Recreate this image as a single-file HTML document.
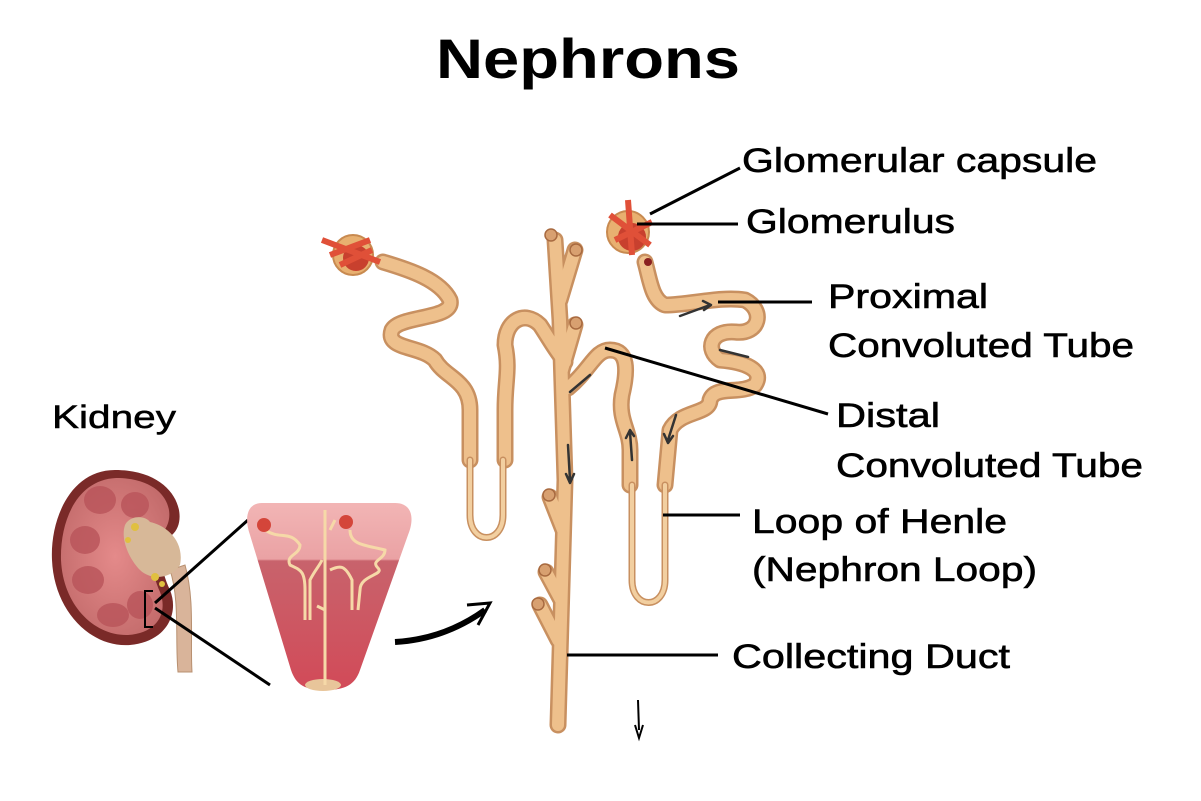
<!DOCTYPE html>
<html><head><meta charset="utf-8"><style>html,body{margin:0;padding:0;background:#fff}svg{display:block}</style></head>
<body>
<svg width="1201" height="801" viewBox="0 0 1201 801" xmlns="http://www.w3.org/2000/svg" font-family="Liberation Sans, sans-serif">
<defs>
<linearGradient id="pyr" x1="0" y1="0" x2="0" y2="1">
<stop offset="0" stop-color="#f2b5b5"/><stop offset="0.3" stop-color="#eaa2a4"/><stop offset="0.31" stop-color="#c8636c"/><stop offset="1" stop-color="#d24a58"/></linearGradient>
<radialGradient id="kid" cx="0.5" cy="0.5" r="0.6"><stop offset="0" stop-color="#e48a8a"/><stop offset="1" stop-color="#c26a6a"/></radialGradient>
</defs>
<rect width="1201" height="801" fill="#fff"/>
<text x="436" y="78" font-size="56" font-weight="bold" textLength="304" lengthAdjust="spacingAndGlyphs">Nephrons</text>

<!-- Kidney -->
<text x="52" y="428" font-size="32" textLength="124" lengthAdjust="spacingAndGlyphs" stroke="#000" stroke-width="0.5">Kidney</text>
<path d="M170,570 C180,600 175,640 178,672 L192,672 C190,640 195,600 185,565 Z" fill="#d9b49a" stroke="#b89070"/>
<path d="M115,470 C70,470 50,520 52,560 C54,610 90,648 130,645 C165,642 180,615 170,590 C158,565 160,545 172,535 C190,520 178,470 115,470 Z" fill="#7a2a28"/>
<path d="M116,478 C76,480 60,522 61,560 C63,605 94,636 128,635 C158,633 168,612 160,592 C150,570 150,548 163,532 C178,515 168,478 116,478 Z" fill="url(#kid)"/>
<g fill="#b9545a" opacity="0.8">
<ellipse cx="100" cy="500" rx="16" ry="14"/><ellipse cx="135" cy="505" rx="14" ry="13"/><ellipse cx="85" cy="540" rx="15" ry="14"/><ellipse cx="88" cy="580" rx="16" ry="14"/><ellipse cx="113" cy="615" rx="16" ry="12"/><ellipse cx="140" cy="605" rx="13" ry="14"/></g>
<path d="M125,525 C130,515 145,515 150,522 C165,525 185,540 180,565 C170,580 150,580 140,570 C130,560 120,540 125,525 Z" fill="#d7b898"/>
<g fill="#e0c040"><circle cx="135" cy="527" r="4"/><circle cx="128" cy="540" r="3"/><circle cx="155" cy="577" r="4"/><circle cx="162" cy="584" r="3"/></g>
<path d="M153,591 L145,591 L145,627 L153,627" fill="none" stroke="#000" stroke-width="2"/>
<line x1="155" y1="603" x2="248" y2="520" stroke="#000" stroke-width="3"/>
<line x1="155" y1="608" x2="270" y2="685" stroke="#000" stroke-width="3"/>

<!-- Pyramid -->
<path d="M262,503 L395,503 C412,503 415,518 408,535 L360,670 C355,685 345,690 325,690 C305,690 296,685 291,670 L250,535 C244,518 247,503 262,503 Z" fill="url(#pyr)"/>
<ellipse cx="323" cy="685" rx="18" ry="6" fill="#e8c59a"/>
<g fill="none" stroke="#f6d9a8" stroke-width="3">
<path d="M325,510 L325,685"/><path d="M325,610 L317,606"/><path d="M330,530 L335,520"/>
<path d="M265,530 C280,540 290,530 300,545 C300,555 285,555 290,565 C300,570 305,570 305,590 L305,620 M310,620 L310,580 C315,570 320,565 322,560"/>
<path d="M350,530 C350,545 365,545 385,550 C385,560 370,560 378,568 C385,575 360,575 360,590 L358,610 M352,610 L352,580 C345,565 340,565 330,570"/>
</g>
<circle cx="264" cy="525" r="7" fill="#d4453a"/><circle cx="346" cy="522" r="7" fill="#d4453a"/>
<path d="M395,642 C430,640 460,628 485,610" fill="none" stroke="#000" stroke-width="6"/>
<path d="M467,605 L490,603 L478,625" fill="none" stroke="#000" stroke-width="3"/>

<!-- tubes -->
<g fill="none" stroke-linecap="round" stroke-linejoin="round">
<g stroke="#c89060" stroke-width="17">
<path d="M555,240 L560,320 L565,480 L558,725"/><path d="M575,250 L560,300"/><path d="M575,325 L562,370"/><path d="M550,497 L563,530"/><path d="M546,572 L561,600"/><path d="M540,605 L558,640"/>
<path d="M383,262 C410,270 440,280 450,300 C455,320 400,315 392,330 C385,350 420,345 435,360 C445,378 470,380 470,410 L470,460"/>
<path d="M505,460 L505,410 C505,380 510,370 505,345 C505,320 525,310 540,325 C550,340 555,350 565,362"/>
<path d="M645,262 C650,280 652,300 665,305 C690,305 720,296 745,300 C765,310 760,335 735,332 C710,330 705,350 720,360 C745,362 765,370 755,385 C740,395 715,385 710,400 C710,415 680,410 670,430 L665,485"/>
<path d="M630,485 L630,450 C630,430 618,420 622,395 C628,370 628,350 610,350 C595,350 590,370 568,388"/>
</g>
<g stroke="#eec08c" stroke-width="12">
<path d="M555,240 L560,320 L565,480 L558,725"/><path d="M575,250 L560,300"/><path d="M575,325 L562,370"/><path d="M550,497 L563,530"/><path d="M546,572 L561,600"/><path d="M540,605 L558,640"/>
<path d="M383,262 C410,270 440,280 450,300 C455,320 400,315 392,330 C385,350 420,345 435,360 C445,378 470,380 470,410 L470,460"/>
<path d="M505,460 L505,410 C505,380 510,370 505,345 C505,320 525,310 540,325 C550,340 555,350 565,362"/>
<path d="M645,262 C650,280 652,300 665,305 C690,305 720,296 745,300 C765,310 760,335 735,332 C710,330 705,350 720,360 C745,362 765,370 755,385 C740,395 715,385 710,400 C710,415 680,410 670,430 L665,485"/>
<path d="M630,485 L630,450 C630,430 618,420 622,395 C628,370 628,350 610,350 C595,350 590,370 568,388"/>
</g>
<path d="M470,460 L470,515 C470,545 503,545 503,515 L503,460" stroke="#c89060" stroke-width="7"/>
<path d="M470,460 L470,515 C470,545 503,545 503,515 L503,460" stroke="#f2cfa0" stroke-width="4"/>
<path d="M665,485 L665,580 C665,610 632,610 632,580 L632,485" stroke="#c89060" stroke-width="7"/>
<path d="M665,485 L665,580 C665,610 632,610 632,580 L632,485" stroke="#f2cfa0" stroke-width="4"/>
<g stroke="#333" stroke-width="2.5"><path d="M568,445 L570,480 M566,474 L570,483 L574,474"/><path d="M676,415 L668,440 M664,434 L668,443 L673,436"/><path d="M632,460 L630,432 M626,438 L630,430 L634,436"/><path d="M680,316 L710,305 M703,301 L711,305 L704,310"/><path d="M720,350 L748,357"/><path d="M590,375 L570,392"/></g>
<g fill="#d8a070" stroke="#a86a40" stroke-width="1.5"><circle cx="551" cy="235" r="6"/><circle cx="576" cy="250" r="6"/><circle cx="576" cy="323" r="6"/><circle cx="549" cy="495" r="6"/><circle cx="545" cy="570" r="6"/><circle cx="538" cy="604" r="6"/></g>
</g>
<!-- glomeruli -->
<g>
<circle cx="353" cy="255" r="20" fill="#e8b070" stroke="#c88a50" stroke-width="2"/>
<circle cx="356" cy="258" r="13" fill="#c8402e"/>
<path d="M322,240 L380,262 M330,255 L370,240 M340,265 L372,250" stroke="#e05038" stroke-width="6" fill="none"/>
<circle cx="628" cy="232" r="21" fill="#e8b070" stroke="#c88a50" stroke-width="2"/>
<circle cx="632" cy="237" r="14" fill="#c8402e"/>
<path d="M628,200 L632,255 M610,215 L650,245 M615,240 L652,222" stroke="#e05038" stroke-width="6" fill="none"/>
<circle cx="648" cy="262" r="4" fill="#8a2020"/>
</g>

<!-- leader lines -->
<g stroke="#000" stroke-width="3">
<line x1="740" y1="168" x2="650" y2="214"/><line x1="637" y1="224" x2="738" y2="224"/>
<line x1="718" y1="302" x2="812" y2="302"/><line x1="605" y1="348" x2="828" y2="414"/>
<line x1="663" y1="515" x2="740" y2="515"/><line x1="567" y1="655" x2="718" y2="655"/>
<path d="M638,700 L639,730 M635,725 L639,738 L643,725" stroke-width="2" fill="none"/>
</g>
<g font-size="34" stroke="#000" stroke-width="0.6">
<text x="742" y="172" textLength="355" lengthAdjust="spacingAndGlyphs">Glomerular capsule</text>
<text x="746" y="233" textLength="209" lengthAdjust="spacingAndGlyphs">Glomerulus</text>
<text x="828" y="308" textLength="160" lengthAdjust="spacingAndGlyphs">Proximal</text>
<text x="828" y="357" textLength="306" lengthAdjust="spacingAndGlyphs">Convoluted Tube</text>
<text x="836" y="427" textLength="104" lengthAdjust="spacingAndGlyphs">Distal</text>
<text x="836" y="477" textLength="307" lengthAdjust="spacingAndGlyphs">Convoluted Tube</text>
<text x="752" y="533" textLength="255" lengthAdjust="spacingAndGlyphs">Loop of Henle</text>
<text x="752" y="581" textLength="285" lengthAdjust="spacingAndGlyphs">(Nephron Loop)</text>
<text x="732" y="668" textLength="278" lengthAdjust="spacingAndGlyphs">Collecting Duct</text>
</g>
</svg>
</body></html>
